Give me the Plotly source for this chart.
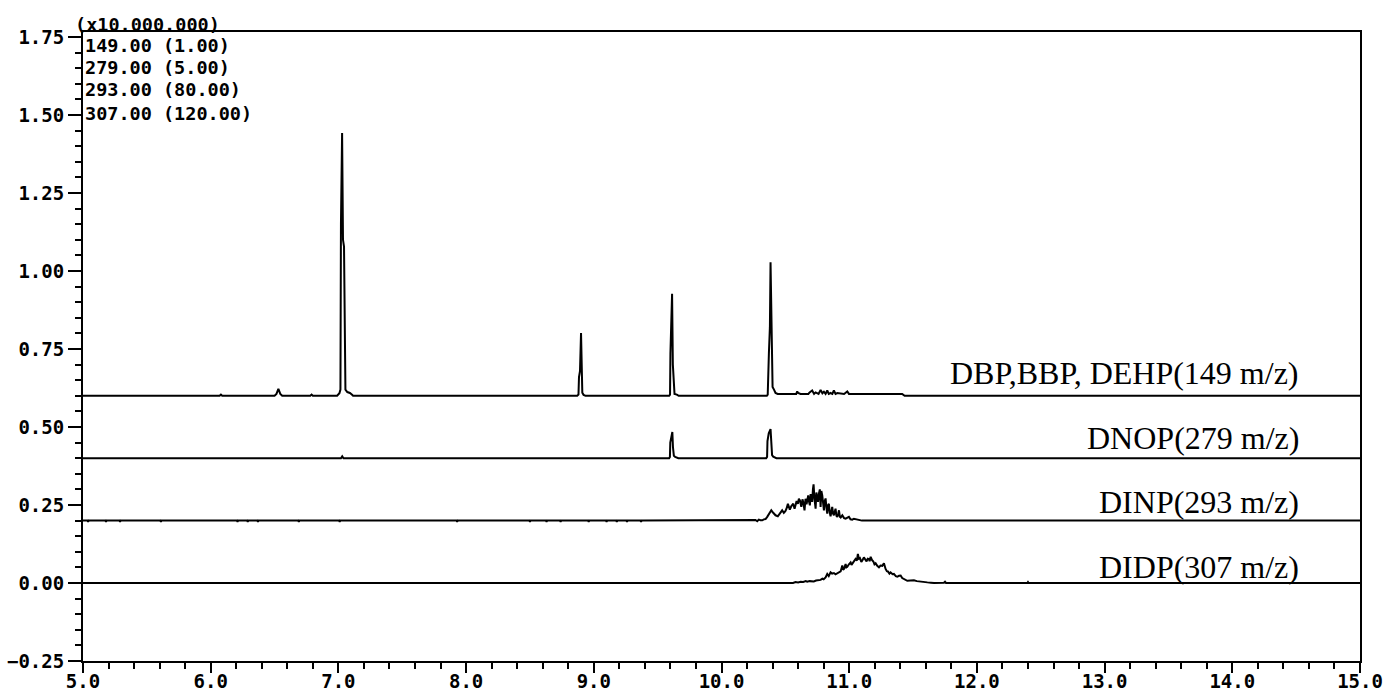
import plotly.graph_objects as go

# ---------------- data (retention time [min], relative intensity x10,000,000) -------------
series_names = ["DBP,BBP, DEHP(149 m/z)", "DNOP(279 m/z)", "DINP(293 m/z)", "DIDP(307 m/z)"]
mass_labels = ["149.00 (1.00)", "279.00 (5.00)", "293.00 (80.00)", "307.00 (120.00)"]
scale_label = "(x10.000.000)"
offsets = [0.60, 0.40, 0.20, 0.00]

pts_149 = [
    (5.00, 0), (6.07, 0), (6.08, 0.004), (6.09, 0), (6.50, 0), (6.515, 0.006), (6.53, 0.022),
    (6.545, 0.006), (6.56, 0), (6.78, 0), (6.79, 0.004), (6.80, 0),
    (6.990, 0), (7.008, 0.008), (7.016, 0.02), (7.020, 0.55), (7.029, 0.842), (7.036, 0.50),
    (7.044, 0.478), (7.047, 0.32), (7.055, 0.02), (7.070, 0.012), (7.090, 0.009), (7.105, 0.004),
    (7.115, 0),
    (8.870, 0), (8.880, 0.004), (8.884, 0.060), (8.892, 0.080), (8.900, 0.201), (8.905, 0.092),
    (8.910, 0.010), (8.920, 0.003), (8.935, 0),
    (9.590, 0), (9.597, 0.004), (9.600, 0.135), (9.606, 0.225), (9.613, 0.327), (9.619, 0.10),
    (9.625, 0.03), (9.632, 0.006), (9.650, 0.004), (9.665, 0),
    (10.355, 0), (10.362, 0.004), (10.371, 0.135), (10.379, 0.22), (10.384, 0.428), (10.392, 0.24),
    (10.400, 0.028), (10.412, 0.019), (10.423, 0.009), (10.440, 0.006), (10.585, 0.006),
    (10.593, 0.014), (10.600, 0.009), (10.619, 0.006), (10.680, 0.006), (10.690, 0.011),
    (10.710, 0.017), (10.725, 0.006), (10.737, 0.011), (10.760, 0.006), (10.776, 0.019),
    (10.790, 0.008), (10.802, 0.013), (10.815, 0.006), (10.828, 0.017), (10.840, 0.006),
    (10.854, 0.009), (10.868, 0.006), (10.880, 0.017), (10.893, 0.006), (10.907, 0.009),
    (10.960, 0.006), (10.985, 0.014), (10.998, 0.006), (11.415, 0.006), (11.434, 0), (15.00, 0),
]

pts_279 = [
    (5.00, 0), (7.020, 0), (7.030, 0.006), (7.040, 0),
    (9.590, 0), (9.596, 0.004), (9.599, 0.050), (9.607, 0.072), (9.615, 0.084), (9.620, 0.035),
    (9.627, 0.008), (9.637, 0.004), (9.655, 0.002), (9.662, 0),
    (10.350, 0), (10.357, 0.004), (10.360, 0.055), (10.370, 0.080), (10.384, 0.093),
    (10.390, 0.040), (10.396, 0.010), (10.405, 0.005), (10.423, 0.003), (10.430, 0), (15.00, 0),
]

pts_293 = [
    (5.00, 0), (5.035, 0), (5.04, -0.004), (5.045, 0), (5.175, 0), (5.18, -0.004), (5.185, 0),
    (5.285, 0), (5.29, -0.004), (5.295, 0), (5.605, 0), (5.61, -0.004), (5.615, 0),
    (6.205, 0), (6.21, -0.004), (6.215, 0), (6.285, 0), (6.29, -0.004), (6.295, 0),
    (6.365, 0), (6.37, -0.004), (6.375, 0), (6.685, 0), (6.69, -0.004), (6.695, 0),
    (7.005, 0), (7.01, -0.004), (7.015, 0), (7.925, 0), (7.93, -0.004), (7.935, 0),
    (8.495, 0), (8.50, -0.004), (8.505, 0), (8.625, 0), (8.63, -0.004), (8.635, 0),
    (8.735, 0), (8.74, -0.004), (8.745, 0), (8.955, 0), (8.96, -0.004), (8.965, 0),
    (9.095, 0), (9.10, -0.004), (9.105, 0), (9.175, 0), (9.18, -0.004), (9.185, 0),
    (9.255, 0), (9.26, -0.004), (9.265, 0), (9.365, 0), (9.37, -0.004), (9.375, 0),
    (10.240, 0), (10.266, 0.002), (10.280, -0.002), (10.292, 0.003), (10.305, 0.001),
    (10.319, 0.001), (10.332, 0.004), (10.345, 0.005), (10.358, 0.012), (10.370, 0.020),
    (10.379, 0.028), (10.390, 0.033), (10.405, 0.025), (10.423, 0.017), (10.441, 0.014),
    (10.452, 0.020), (10.462, 0.022), (10.475, 0.033), (10.488, 0.025), (10.500, 0.030),
    (10.509, 0.038), (10.520, 0.054), (10.535, 0.035), (10.546, 0.046), (10.562, 0.054),
    (10.572, 0.038), (10.580, 0.050), (10.588, 0.063), (10.598, 0.054), (10.606, 0.070),
    (10.614, 0.065), (10.625, 0.044), (10.634, 0.068), (10.640, 0.060), (10.650, 0.033),
    (10.658, 0.070), (10.666, 0.052), (10.679, 0.081), (10.686, 0.060), (10.692, 0.049),
    (10.698, 0.085), (10.703, 0.071), (10.710, 0.060), (10.716, 0.100), (10.721, 0.116),
    (10.728, 0.070), (10.737, 0.038), (10.743, 0.090), (10.750, 0.076), (10.756, 0.060),
    (10.763, 0.087), (10.770, 0.100), (10.776, 0.044), (10.782, 0.095), (10.789, 0.081),
    (10.795, 0.060), (10.802, 0.033), (10.808, 0.062), (10.815, 0.071), (10.822, 0.040),
    (10.828, 0.022), (10.835, 0.050), (10.841, 0.054), (10.848, 0.025), (10.854, 0.014),
    (10.861, 0.030), (10.867, 0.044), (10.874, 0.022), (10.880, 0.017), (10.887, 0.028),
    (10.893, 0.038), (10.900, 0.015), (10.907, 0.012), (10.914, 0.022), (10.920, 0.033),
    (10.927, 0.012), (10.933, 0.010), (10.946, 0.017), (10.960, 0.008), (10.972, 0.006),
    (10.985, 0.010), (10.998, 0.012), (11.010, 0.004), (11.024, 0.003), (11.037, 0.006),
    (11.050, 0.005), (11.070, 0.002), (11.089, 0.001), (11.100, 0), (15.00, 0),
]

pts_307 = [
    (5.00, 0), (10.460, 0), (10.480, 0.002), (10.500, 0.001), (10.541, 0.002), (10.560, 0.000),
    (10.580, 0.003), (10.600, 0.002), (10.619, 0.004), (10.640, 0.003), (10.660, 0.006),
    (10.671, 0.004), (10.690, 0.006), (10.705, 0.005), (10.723, 0.005), (10.740, 0.008),
    (10.760, 0.009), (10.776, 0.010), (10.790, 0.014), (10.800, 0.012), (10.815, 0.018),
    (10.822, 0.025), (10.828, 0.029), (10.840, 0.022), (10.854, 0.034), (10.866, 0.030),
    (10.880, 0.032), (10.893, 0.028), (10.907, 0.032), (10.920, 0.035), (10.933, 0.037),
    (10.946, 0.056), (10.952, 0.042), (10.959, 0.045), (10.965, 0.058), (10.972, 0.061),
    (10.978, 0.050), (10.985, 0.052), (10.998, 0.060), (11.011, 0.066), (11.018, 0.058),
    (11.024, 0.061), (11.037, 0.070), (11.050, 0.077), (11.060, 0.072), (11.068, 0.093),
    (11.076, 0.078), (11.084, 0.080), (11.095, 0.068), (11.103, 0.072), (11.115, 0.082),
    (11.125, 0.075), (11.136, 0.069), (11.145, 0.078), (11.154, 0.077), (11.160, 0.070),
    (11.168, 0.084), (11.178, 0.074), (11.189, 0.069), (11.198, 0.060), (11.207, 0.063),
    (11.220, 0.055), (11.233, 0.050), (11.245, 0.056), (11.259, 0.055), (11.272, 0.063),
    (11.280, 0.048), (11.285, 0.045), (11.295, 0.038), (11.303, 0.037), (11.315, 0.030),
    (11.324, 0.034), (11.340, 0.028), (11.350, 0.029), (11.365, 0.022), (11.377, 0.020),
    (11.390, 0.023), (11.403, 0.024), (11.415, 0.016), (11.429, 0.013), (11.442, 0.010),
    (11.455, 0.007), (11.480, 0.008), (11.507, 0.009), (11.530, 0.006), (11.559, 0.004),
    (11.585, 0.003), (11.612, 0.002), (11.640, 0.001), (11.664, 0), (11.742, 0.001),
    (11.750, 0.004), (11.758, 0), (12.395, 0), (12.400, 0.003), (12.405, 0), (15.00, 0),
]

x_range = [5.0, 15.0]
y_range = [-0.25, 1.766]

# ---------------- figure ----------------
all_pts = [pts_149, pts_279, pts_293, pts_307]
fig = go.Figure()
for name, pts, off in zip(series_names, all_pts, offsets):
    t = [p[0] for p in pts]
    y = [p[1] + off for p in pts]
    fig.add_trace(go.Scatter(x=t, y=y, mode="lines", name=name,
                             line=dict(color="black", width=2), showlegend=False))

ytick_font = dict(family="DejaVu Sans Mono", size=19, color="black", weight="bold")
xtick_font = dict(family="DejaVu Sans Mono", size=19, color="black", weight="bold")
label_font = dict(family="DejaVu Sans Mono", size=18.5, color="black", weight="bold")
serif_font = dict(family="Liberation Serif, Times New Roman, serif", size=32, color="black")

annotations = [
    dict(text=scale_label, xref="paper", yref="paper", x=-0.008, y=1.0127,
         xanchor="left", yanchor="middle", showarrow=False, font=label_font),
]
mass_y = [0.9793, 0.9436, 0.9078, 0.8712]
for txt, my in zip(mass_labels, mass_y):
    annotations.append(dict(text=txt, xref="paper", yref="paper", x=0.0, y=my,
                            xanchor="left", yanchor="middle", showarrow=False,
                            font=label_font))
label_y = [0.673, 0.465, 0.260, 0.051]
for name, ly in zip(series_names, label_y):
    annotations.append(dict(text=name, xref="x", yref="y", x=14.54, y=ly,
                            xanchor="right", yanchor="middle", showarrow=False,
                            font=serif_font))

fig.update_layout(
    width=1383, height=694,
    margin=dict(l=83, r=23, t=32, b=33, autoexpand=False),
    paper_bgcolor="white", plot_bgcolor="white",
    annotations=annotations,
    xaxis=dict(range=x_range, showgrid=False, zeroline=False, showline=True, automargin=False,
               linecolor="black", linewidth=2, mirror=True,
               ticks="outside", ticklen=10, tickwidth=2, tickcolor="black",
               tick0=5, dtick=1, tickformat=".1f", tickfont=xtick_font,
               ticklabelstandoff=-8, ticklabeloverflow="allow",
               minor=dict(ticks="outside", dtick=0.2, ticklen=6, tickwidth=1.5,
                          tickcolor="black", showgrid=False)),
    yaxis=dict(range=y_range, showgrid=False, zeroline=False, showline=True, automargin=False,
               linecolor="black", linewidth=2, mirror=True,
               ticks="outside", ticklen=13, tickwidth=2, tickcolor="black",
               tick0=0, dtick=0.25, tickformat=".2f", tickfont=ytick_font,
               ticklabeloverflow="allow",
               minor=dict(ticks="outside", dtick=0.05, ticklen=6, tickwidth=1.5,
                          tickcolor="black", showgrid=False)),
)

fig.write_html("out.html", config={"displayModeBar": False},
               post_script="document.body.style.margin='0';document.body.style.overflow='hidden';")
